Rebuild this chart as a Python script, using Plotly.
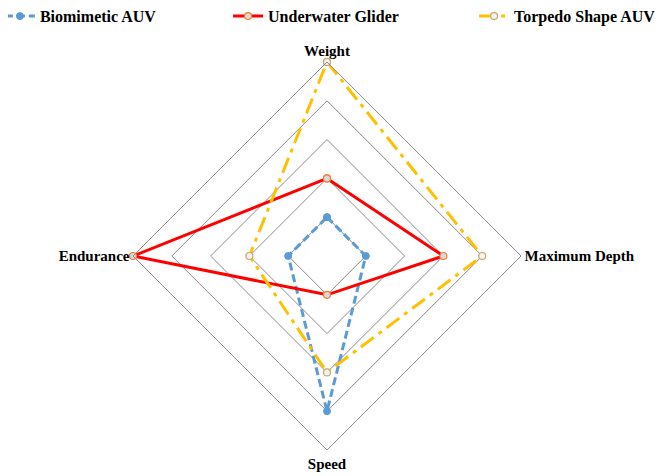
import plotly.graph_objects as go

categories = ["Weight", "Maximum Depth", "Speed", "Endurance"]
biomimetic = [1, 1, 4, 1]
glider = [2, 3, 1, 5]
torpedo = [5, 4, 3, 2]
series_names = ["Biomimetic AUV", "Underwater Glider", "Torpedo Shape AUV"]

FONT = "Liberation Serif, Times New Roman, serif"

def closed(v):
    return v + v[:1]

cats = closed(categories)

fig = go.Figure()
fig.add_trace(go.Scatterpolar(
    r=closed(biomimetic), theta=cats, name=series_names[0], mode="lines+markers",
    line=dict(color="#5B9BD5", width=3, dash="8px,4px"),
    marker=dict(symbol="circle", size=7, color="#5B9BD5", line=dict(color="#5B9BD5", width=1)),
    legend="legend"))
fig.add_trace(go.Scatterpolar(
    r=closed(glider), theta=cats, name=series_names[1], mode="lines+markers",
    line=dict(color="#FF0000", width=3),
    marker=dict(symbol="circle", size=7, color="#D9D9D9", line=dict(color="#ED7D31", width=1.2)),
    legend="legend2"))
fig.add_trace(go.Scatterpolar(
    r=closed(torpedo), theta=cats, name=series_names[2], mode="lines+markers",
    line=dict(color="#FFC000", width=3, dash="16px,6px,4px,6px"),
    marker=dict(symbol="circle", size=7, color="#F2F2F2", line=dict(color="#C9A66B", width=1.2)),
    legend="legend3"))

legend_common = dict(orientation="h", yanchor="middle", xanchor="left",
                     font=dict(family=FONT, size=16, color="#000000", weight="bold"),
                     bgcolor="rgba(0,0,0,0)", itemwidth=30)

fig.update_layout(
    width=657, height=468,
    margin=dict(l=125, r=144, t=54, b=26, autoexpand=False),
    paper_bgcolor="white", plot_bgcolor="white",
    font=dict(family=FONT, size=15, color="#000000"),
    showlegend=True,
    legend=dict(**legend_common, x=-0.343, y=1.118),
    legend2=dict(**legend_common, x=0.245, y=1.118),
    legend3=dict(**legend_common, x=0.879, y=1.118),
    polar=dict(
        bgcolor="white",
        gridshape="linear",
        radialaxis=dict(range=[0, 5], tickvals=[1, 2, 3, 4, 5], showticklabels=False,
                        showline=False, ticks="", gridcolor="#8C8C8C", gridwidth=1),
        angularaxis=dict(direction="clockwise", rotation=90, showgrid=False,
                         showline=True, linecolor="#8C8C8C", linewidth=1, ticks="",
                         tickfont=dict(family=FONT, size=15, color="#000000", weight="bold")),
    ),
)

fig.write_html("out.html")
